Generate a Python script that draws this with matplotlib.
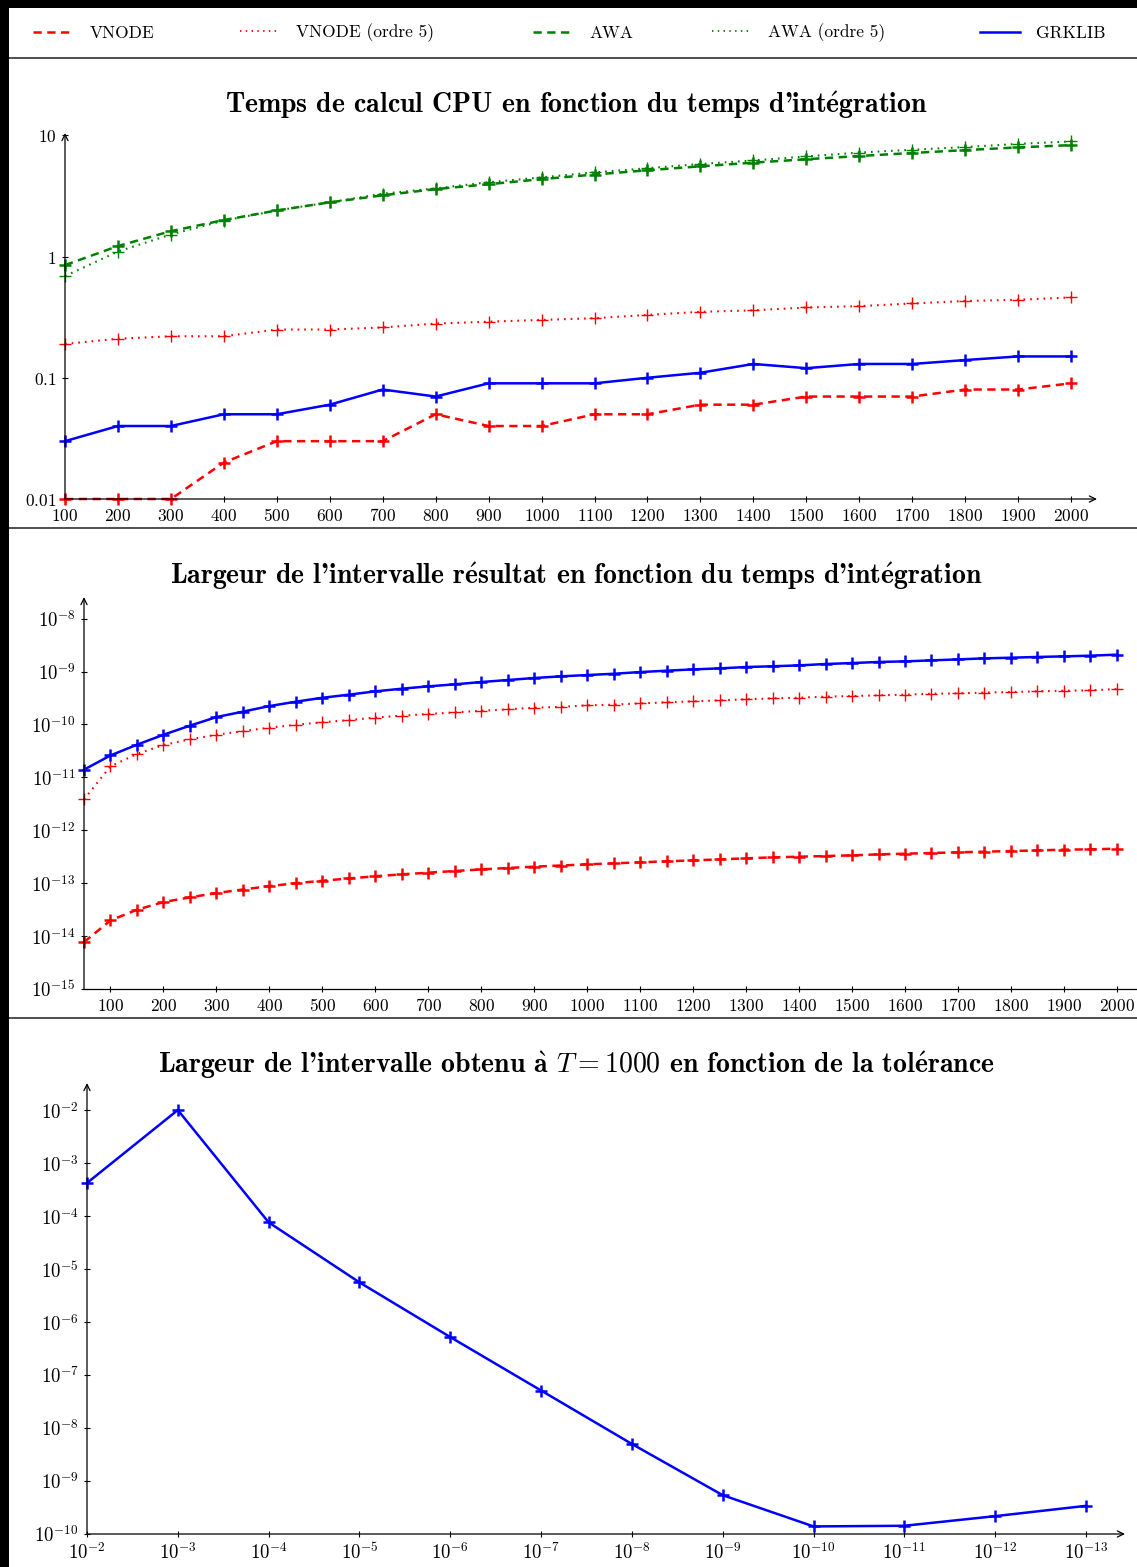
import matplotlib
matplotlib.use('Agg')
import matplotlib.pyplot as plt
from matplotlib.patches import Rectangle
from matplotlib.lines import Line2D
from matplotlib.ticker import FixedLocator, FixedFormatter, NullLocator

plt.rcParams['mathtext.fontset'] = 'cm'
plt.rcParams['axes.unicode_minus'] = False

# ---------------- data ----------------
# Panel 1 : CPU time vs integration time
t_cpu = [100, 200, 300, 400, 500, 600, 700, 800, 900, 1000,
         1100, 1200, 1300, 1400, 1500, 1600, 1700, 1800, 1900, 2000]
cpu_vnode = [0.01, 0.01, 0.01, 0.02, 0.03, 0.03, 0.03, 0.05, 0.04, 0.04,
             0.05, 0.05, 0.06, 0.06, 0.07, 0.07, 0.07, 0.08, 0.08, 0.09]
cpu_vnode5 = [0.19, 0.21, 0.22, 0.22, 0.25, 0.25, 0.26, 0.28, 0.29, 0.30,
              0.31, 0.33, 0.35, 0.36, 0.38, 0.39, 0.41, 0.43, 0.44, 0.46]
cpu_awa = [0.85, 1.22, 1.62, 2.0, 2.4, 2.8, 3.2, 3.6, 3.95, 4.35,
           4.75, 5.15, 5.55, 5.95, 6.35, 6.75, 7.15, 7.55, 7.95, 8.3]
cpu_awa5 = [0.69, 1.1, 1.52, 1.98, 2.4, 2.8, 3.3, 3.65, 4.1, 4.5,
            4.95, 5.35, 5.8, 6.2, 6.7, 7.2, 7.6, 8.0, 8.5, 8.9]
cpu_grklib = [0.03, 0.04, 0.04, 0.05, 0.05, 0.06, 0.08, 0.07, 0.09, 0.09,
              0.09, 0.10, 0.11, 0.13, 0.12, 0.13, 0.13, 0.14, 0.15, 0.15]
cpu_xticks = t_cpu
cpu_yticks = [0.01, 0.1, 1, 10]
cpu_ylabels = ['$0.01$', '$0.1$', '$1$', '$10$']

# Panel 2 : result interval width vs integration time
t_w = [50, 100, 150, 200, 250, 300, 350, 400, 450, 500,
       550, 600, 650, 700, 750, 800, 850, 900, 950, 1000,
       1050, 1100, 1150, 1200, 1250, 1300, 1350, 1400, 1450, 1500,
       1550, 1600, 1650, 1700, 1750, 1800, 1850, 1900, 1950, 2000]
w_grklib = [1.4e-11, 2.6e-11, 4.15e-11, 6.4e-11, 9.5e-11, 1.38e-10, 1.75e-10, 2.23e-10, 2.7e-10, 3.2e-10,
            3.66e-10, 4.23e-10, 4.75e-10, 5.26e-10, 5.74e-10, 6.35e-10, 6.93e-10, 7.56e-10, 8.13e-10, 8.6e-10,
            9.1e-10, 9.8e-10, 1.04e-9, 1.10e-9, 1.15e-9, 1.22e-9, 1.26e-9, 1.31e-9, 1.39e-9, 1.45e-9,
            1.52e-9, 1.56e-9, 1.63e-9, 1.70e-9, 1.78e-9, 1.83e-9, 1.89e-9, 1.94e-9, 2.0e-9, 2.09e-9]
w_vnode5 = [3.85e-12, 1.62e-11, 2.77e-11, 4.1e-11, 5.24e-11, 6.4e-11, 7.5e-11, 8.7e-11, 9.9e-11, 1.1e-10,
            1.21e-10, 1.35e-10, 1.47e-10, 1.58e-10, 1.69e-10, 1.82e-10, 1.93e-10, 2.08e-10, 2.15e-10, 2.3e-10,
            2.37e-10, 2.51e-10, 2.62e-10, 2.74e-10, 2.86e-10, 2.99e-10, 3.12e-10, 3.21e-10, 3.36e-10, 3.45e-10,
            3.56e-10, 3.66e-10, 3.82e-10, 3.88e-10, 4.0e-10, 4.11e-10, 4.23e-10, 4.35e-10, 4.42e-10, 4.68e-10]
w_vnode = [7.7e-15, 1.98e-14, 3.15e-14, 4.4e-14, 5.4e-14, 6.5e-14, 7.6e-14, 8.8e-14, 1.0e-13, 1.11e-13,
           1.23e-13, 1.35e-13, 1.47e-13, 1.58e-13, 1.7e-13, 1.82e-13, 1.94e-13, 2.05e-13, 2.16e-13, 2.27e-13,
           2.37e-13, 2.48e-13, 2.59e-13, 2.7e-13, 2.82e-13, 2.95e-13, 3.08e-13, 3.17e-13, 3.26e-13, 3.36e-13,
           3.51e-13, 3.61e-13, 3.72e-13, 3.83e-13, 3.94e-13, 4.05e-13, 4.17e-13, 4.3e-13, 4.37e-13, 4.49e-13]
w_xticks = [100, 200, 300, 400, 500, 600, 700, 800, 900, 1000,
            1100, 1200, 1300, 1400, 1500, 1600, 1700, 1800, 1900, 2000]
w_yticks = [1e-15, 1e-14, 1e-13, 1e-12, 1e-11, 1e-10, 1e-9, 1e-8]
w_ylabels = ['$10^{-15}$', '$10^{-14}$', '$10^{-13}$', '$10^{-12}$',
             '$10^{-11}$', '$10^{-10}$', '$10^{-9}$', '$10^{-8}$']

# Panel 3 : interval width at T=1000 vs tolerance
tol = [1e-2, 1e-3, 1e-4, 1e-5, 1e-6, 1e-7, 1e-8, 1e-9, 1e-10, 1e-11, 1e-12, 1e-13]
tol_labels = ['$10^{-2}$', '$10^{-3}$', '$10^{-4}$', '$10^{-5}$', '$10^{-6}$', '$10^{-7}$',
              '$10^{-8}$', '$10^{-9}$', '$10^{-10}$', '$10^{-11}$', '$10^{-12}$', '$10^{-13}$']
w_tol = [4.2e-4, 1.0e-2, 7.6e-5, 5.6e-6, 5.2e-7, 5.1e-8, 5.0e-9, 5.4e-10, 1.39e-10, 1.43e-10, 2.17e-10, 3.4e-10]
tol_yticks = [1e-10, 1e-9, 1e-8, 1e-7, 1e-6, 1e-5, 1e-4, 1e-3, 1e-2]
tol_ylabels = ['$10^{-10}$', '$10^{-9}$', '$10^{-8}$', '$10^{-7}$', '$10^{-6}$',
               '$10^{-5}$', '$10^{-4}$', '$10^{-3}$', '$10^{-2}$']

legend_labels = ['VNODE', 'VNODE (ordre 5)', 'AWA', 'AWA (ordre 5)', 'GRKLIB']
# accented letters typeset with mathtext accents (Computer Modern has no precomposed é / à)
E_ACUTE = r'$\mathbf{\acute{e}}$'
A_GRAVE = r'$\mathbf{\grave{a}}$'
titles = ["Temps de calcul CPU en fonction du temps d'int" + E_ACUTE + "gration",
          "Largeur de l'intervalle r" + E_ACUTE + "sultat en fonction du temps d'int" + E_ACUTE + "gration",
          "Largeur de l'intervalle obtenu " + A_GRAVE + " $T = 1000$ en fonction de la tol" + E_ACUTE + "rance"]

# ---------------- styles ----------------
RED = '#ff0000'
GREEN = '#008000'
BLUE = '#0000ff'
LW = 1.8
DASH = (0, (3.3, 2.2))
DOT = (0, (0.8, 2.4))
FS_NUM = 12.5      # plain numeric tick labels
FS_POW = 13.5      # 10^{n} tick labels
FS_TITLE = 20
FS_LEG = 12.5
TITLE_FONT = ['cmb10', 'DejaVu Serif']
TEXT_FONT = ['cmr10', 'DejaVu Serif']

W, H = 1137, 1567
fig = plt.figure(figsize=(W / 100, H / 100), dpi=100)


def rect(l, t, r, b):
    return [l / W, 1 - b / H, (r - l) / W, (b - t) / H]


def style_axes(ax, xsize, ysize, xarrow=True):
    for s in ax.spines.values():
        s.set_visible(False)
    arrow = dict(arrowstyle='->,head_length=0.45,head_width=0.22', lw=0.9,
                 color='black', shrinkA=0, shrinkB=0)
    ax.annotate('', xy=(0, 1), xytext=(0, 0), xycoords='axes fraction',
                arrowprops=arrow, annotation_clip=False)
    if xarrow:
        ax.annotate('', xy=(1, 0), xytext=(0, 0), xycoords='axes fraction',
                    arrowprops=arrow, annotation_clip=False)
    else:
        ax.spines['bottom'].set_visible(True)
        ax.spines['bottom'].set_linewidth(0.9)
    ax.tick_params(direction='inout', length=5, width=0.8,
                   pad=3.5, colors='black')
    ax.tick_params(axis='x', labelsize=xsize)
    ax.tick_params(axis='y', labelsize=ysize)
    ax.set_facecolor('none')


def plot_series(ax, x, y, color, ls, dotted=False):
    ax.plot(x, y, color=color, lw=LW if not dotted else 1.5, linestyle=ls, marker='+',
            markersize=8.5, markeredgewidth=1.0 if dotted else 1.8,
            clip_on=False, zorder=3)


# ---------------- panel 1 ----------------
ax1 = fig.add_axes(rect(65, 133, 1097, 499))
ax1.set_yscale('log')
plot_series(ax1, t_cpu, cpu_vnode, RED, DASH)
plot_series(ax1, t_cpu, cpu_vnode5, RED, DOT, dotted=True)
plot_series(ax1, t_cpu, cpu_awa, GREEN, DASH)
plot_series(ax1, t_cpu, cpu_awa5, GREEN, DOT, dotted=True)
plot_series(ax1, t_cpu, cpu_grklib, BLUE, '-')
ax1.set_xlim(100, 2049)
ax1.set_ylim(0.01, 10.45)
ax1.xaxis.set_major_locator(FixedLocator(cpu_xticks))
ax1.xaxis.set_major_formatter(FixedFormatter(['$%d$' % v for v in cpu_xticks]))
ax1.xaxis.set_minor_locator(NullLocator())
ax1.yaxis.set_major_locator(FixedLocator(cpu_yticks))
ax1.yaxis.set_major_formatter(FixedFormatter(cpu_ylabels))
ax1.yaxis.set_minor_locator(NullLocator())
style_axes(ax1, FS_NUM, FS_NUM)

# ---------------- panel 2 ----------------
ax2 = fig.add_axes(rect(84, 597, 1137, 989))
ax2.set_yscale('log')
plot_series(ax2, t_w, w_vnode, RED, DASH)
plot_series(ax2, t_w, w_vnode5, RED, DOT, dotted=True)
plot_series(ax2, t_w, w_grklib, BLUE, '-')
ax2.set_xlim(50, 2038)
ax2.set_ylim(1e-15, 10 ** -7.59)
ax2.xaxis.set_major_locator(FixedLocator(w_xticks))
ax2.xaxis.set_major_formatter(FixedFormatter(['$%d$' % v for v in w_xticks]))
ax2.xaxis.set_minor_locator(NullLocator())
ax2.yaxis.set_major_locator(FixedLocator(w_yticks))
ax2.yaxis.set_major_formatter(FixedFormatter(w_ylabels))
ax2.yaxis.set_minor_locator(NullLocator())
style_axes(ax2, FS_NUM, FS_POW, xarrow=False)

# ---------------- panel 3 ----------------
ax3 = fig.add_axes(rect(87, 1083, 1125, 1534))
ax3.set_xscale('log')
ax3.set_yscale('log')
plot_series(ax3, tol, w_tol, BLUE, '-')
ax3.set_xlim(1e-2, 10 ** -13.43)
ax3.set_ylim(1e-10, 10 ** -1.49)
ax3.xaxis.set_major_locator(FixedLocator(tol))
ax3.xaxis.set_major_formatter(FixedFormatter(tol_labels))
ax3.xaxis.set_minor_locator(NullLocator())
ax3.yaxis.set_major_locator(FixedLocator(tol_yticks))
ax3.yaxis.set_major_formatter(FixedFormatter(tol_ylabels))
ax3.yaxis.set_minor_locator(NullLocator())
style_axes(ax3, FS_POW, FS_POW)

# ---------------- titles ----------------
for ttl, yc in zip(titles, [105, 576, 1065]):
    fig.text(576 / W, 1 - yc / H, ttl, ha='center', va='center',
             fontfamily=TITLE_FONT, fontsize=FS_TITLE)

# ---------------- legend (one entry per column, placed like the original) ----------------
handles = [Line2D([], [], color=RED, lw=LW, linestyle=DASH),
           Line2D([], [], color=RED, lw=1.3, linestyle=DOT),
           Line2D([], [], color=GREEN, lw=LW, linestyle=DASH),
           Line2D([], [], color=GREEN, lw=1.3, linestyle=DOT),
           Line2D([], [], color=BLUE, lw=LW, linestyle='-')]
leg_x = [33, 240, 533, 712, 980]
for h, lab, lx in zip(handles, legend_labels, leg_x):
    fig.legend([h], [lab], loc='center left',
               bbox_to_anchor=(lx / W, 1 - 33 / H), frameon=False,
               borderpad=0, borderaxespad=0, handlelength=2.3, handletextpad=0.95,
               prop={'family': TEXT_FONT, 'size': FS_LEG})

# ---------------- frame decorations ----------------
fig.add_artist(Rectangle((0, 0), 9 / W, 1, transform=fig.transFigure,
                         color='black', lw=0, zorder=10))
fig.add_artist(Rectangle((0, 1 - 8 / H), 1, 8 / H, transform=fig.transFigure,
                         color='black', lw=0, zorder=10))
for yy in [58, 528, 1018]:
    fig.add_artist(Line2D([9 / W, 1], [1 - yy / H] * 2, transform=fig.transFigure,
                          color='#404040', lw=1.3))

fig.savefig('out.png', dpi=100)
